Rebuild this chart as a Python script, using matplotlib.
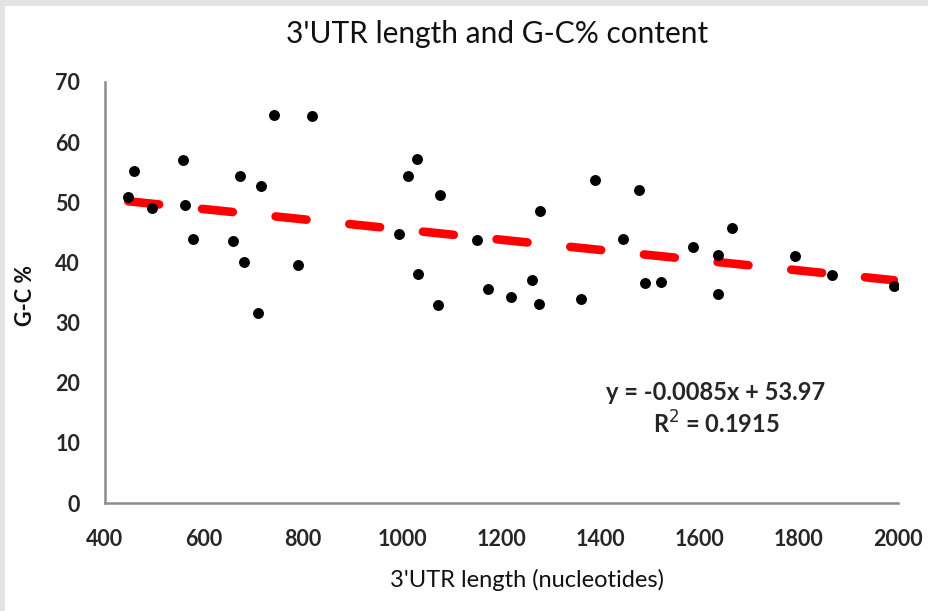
import matplotlib
matplotlib.use("Agg")
import matplotlib.pyplot as plt
from matplotlib.patches import Rectangle
import numpy as np

utr_length = [447, 459, 494, 557, 562, 577, 659, 673, 680, 709, 715, 740, 790, 818,
              994, 1012, 1029, 1031, 1072, 1075, 1150, 1173, 1220, 1261, 1276, 1277,
              1361, 1389, 1446, 1478, 1489, 1521, 1586, 1636, 1637, 1666, 1793, 1867, 1992]
gc_percent = [50.8, 55.2, 49.0, 57.0, 49.5, 43.9, 43.5, 54.3, 40.0, 31.6, 52.7, 64.5, 39.5, 64.4,
              44.8, 54.4, 57.2, 38.0, 33.0, 51.2, 43.7, 35.6, 34.2, 37.0, 33.1, 48.5,
              34.0, 53.7, 43.9, 52.1, 36.5, 36.8, 42.6, 41.3, 34.7, 45.7, 41.1, 37.9, 36.1]
slope = -0.0085
intercept = 53.97
r2 = 0.1915
x_ticks = [400, 600, 800, 1000, 1200, 1400, 1600, 1800, 2000]
y_ticks = [0, 10, 20, 30, 40, 50, 60, 70]

FONT = "Lato"

fig = plt.figure(figsize=(9.29, 6.11), dpi=100)
fig.patch.set_facecolor("#e3e3e3")
fig.patches.append(Rectangle((5 / 929, 0), 1, 1 - 6 / 611, transform=fig.transFigure,
                             facecolor="white", edgecolor="none", zorder=-10))

ax = fig.add_axes([105 / 929, 108 / 611, 793 / 929, 421 / 611])
ax.set_facecolor("none")

xs = np.array([min(utr_length), max(utr_length)])
ax.plot(xs, slope * xs + intercept, color="#ff0000", lw=6.2, ls=(0, (3.6, 5.0)),
        solid_capstyle="round", dash_capstyle="round", zorder=2)
ax.scatter(utr_length, gc_percent, s=62, color="black", zorder=3, linewidths=0)

ax.set_xlim(400, 2000)
ax.set_ylim(0, 70)
ax.set_xticks(x_ticks)
ax.set_yticks(y_ticks)
ax.tick_params(length=0, labelsize=15.5, labelcolor="#262626")
for lab in ax.get_xticklabels() + ax.get_yticklabels():
    lab.set_fontfamily(FONT)
    lab.set_fontweight("bold")
ax.tick_params(axis="y", pad=18)
ax.tick_params(axis="x", pad=19)

for s in ["top", "right"]:
    ax.spines[s].set_visible(False)
for s in ["left", "bottom"]:
    ax.spines[s].set_color("#8c8c8c")
    ax.spines[s].set_linewidth(1.8)

fig.text(497 / 929, 1 - 34 / 611, "3'UTR length and G-C% content", ha="center", va="center",
         fontsize=21.5, family=FONT, color="#111111")
fig.text(527 / 929, 1 - 580 / 611, "3'UTR length (nucleotides)", ha="center", va="center",
         fontsize=17, family=FONT, color="#111111")
fig.text(26 / 929, 1 - 296 / 611, "G-C %", ha="center", va="center", rotation=90,
         fontsize=15.5, family=FONT, fontweight="bold", color="#111111")
fig.text(716 / 929, 1 - 393 / 611, f"y = {slope}x + {intercept}", ha="center", va="center",
         fontsize=17, family=FONT, fontweight="bold", color="#262626")
fig.text(716 / 929, 1 - 424 / 611, f"R$^2$ = {r2}", ha="center", va="center",
         fontsize=17, family=FONT, fontweight="bold", color="#262626")

fig.savefig("out.png", dpi=100, facecolor=fig.get_facecolor())
